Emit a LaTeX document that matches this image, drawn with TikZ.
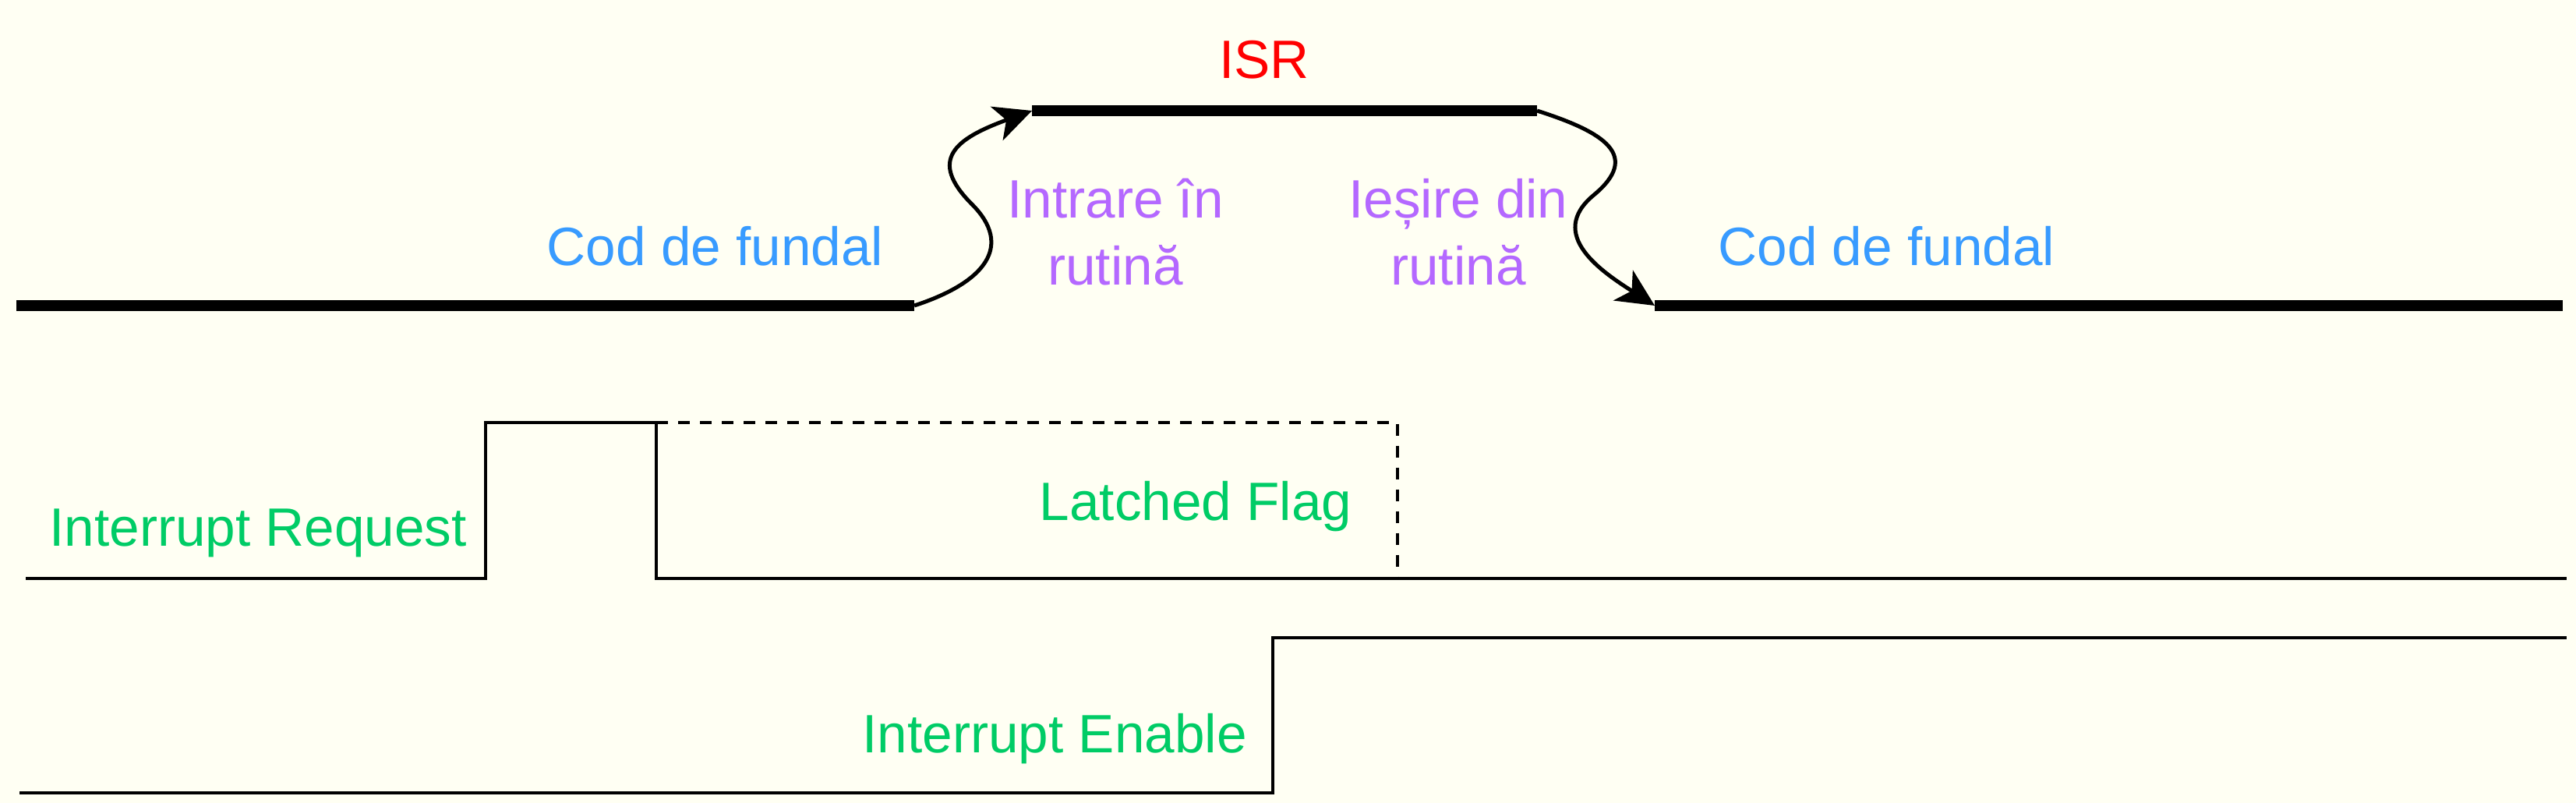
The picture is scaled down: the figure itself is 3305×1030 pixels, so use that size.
\documentclass[tikz,border=0pt]{standalone}
\usepackage{fontspec}
\setmainfont{Liberation Sans}
\usetikzlibrary{arrows.meta}
\definecolor{bgcol}{RGB}{255,255,243}
\definecolor{codblue}{RGB}{56,155,255}
\definecolor{isrred}{RGB}{255,0,0}
\definecolor{routpurple}{RGB}{180,104,255}
\definecolor{siggreen}{RGB}{0,204,102}
\begin{document}
\begin{tikzpicture}[x=0.01cm,y=-0.01cm,
  thickline/.style={line width=0.14cm, line cap=butt},
  wave/.style={line width=0.042cm, line join=miter},
  latchdash/.style={line width=0.04cm, dash pattern=on 0.15cm off 0.13cm},
  flow/.style={line width=0.05cm, -{Stealth[length=0.48cm,width=0.46cm,inset=0.13cm]}},
  lbl/.style={inner sep=0pt, font=\fontsize{19.7}{24.2}\selectfont}]
\useasboundingbox (0,0) rectangle (3305,1030);
\fill[bgcol] (0,0) rectangle (3305,1030);

% program-flow lines
\coordinate (bgAs) at (21,392);
\coordinate (bgAe) at (1173,392);
\coordinate (isrS) at (1324,142);
\coordinate (isrE) at (1972,142);
\coordinate (bgBs) at (2123,392);
\coordinate (bgBe) at (3288,392);
\draw[thickline] (bgAs) -- (bgAe);
\draw[thickline] (isrS) -- (isrE);
\draw[thickline] (bgBs) -- (bgBe);

\draw[flow] (bgAe) .. controls (1265,362) and (1300,315) .. (1247,262)
  .. controls (1190,205) and (1225,178) .. (isrS);
\draw[flow] (isrE) .. controls (2060,170) and (2105,200) .. (2045,250)
  .. controls (1983,301) and (2056,349) .. (bgBs);

% labels
\node[lbl, text=codblue, anchor=base east] (codL) at (1134,340) {Cod de fundal};
\node[lbl, text=codblue, anchor=base west] (codR) at (2204,340) {Cod de fundal};
\node[lbl, text=isrred, anchor=base] (isr) at (1622,100) {ISR};
\node[lbl, text=routpurple, anchor=base] (entry) at (1431,365)
  {\begin{tabular}[b]{@{}c@{}}Intrare în\\rutină\end{tabular}};
\node[lbl, text=routpurple, anchor=base] (exit) at (1871,365)
  {\begin{tabular}[b]{@{}c@{}}Ieșire din\\rutină\end{tabular}};
\node[lbl, text=siggreen, anchor=base west] (irq) at (63,700) {Interrupt Request};
\node[lbl, text=siggreen, anchor=base west] (latch) at (1333,667) {Latched Flag};
\node[lbl, text=siggreen, anchor=base west] (ie) at (1106,965) {Interrupt Enable};

% interrupt request waveform
\coordinate (irqA) at (33,742);
\coordinate (irqB) at (623,742);
\coordinate (irqC) at (623,542);
\coordinate (irqD) at (842,542);
\coordinate (irqE) at (842,742);
\coordinate (irqF) at (3293,742);
\coordinate (latchA) at (1793,542);
\coordinate (latchB) at (1793,742);
\draw[wave] (irqA) -- (irqB) -- (irqC) -- (irqD) -- (irqE) -- (irqF);
\draw[latchdash] (irqD) -- (latchA) -- (latchB);

% interrupt enable waveform
\coordinate (ieA) at (25,1017);
\coordinate (ieB) at (1633,1017);
\coordinate (ieC) at (1633,818);
\coordinate (ieD) at (3293,818);
\draw[wave] (ieA) -- (ieB) -- (ieC) -- (ieD);
\end{tikzpicture}
\end{document}
